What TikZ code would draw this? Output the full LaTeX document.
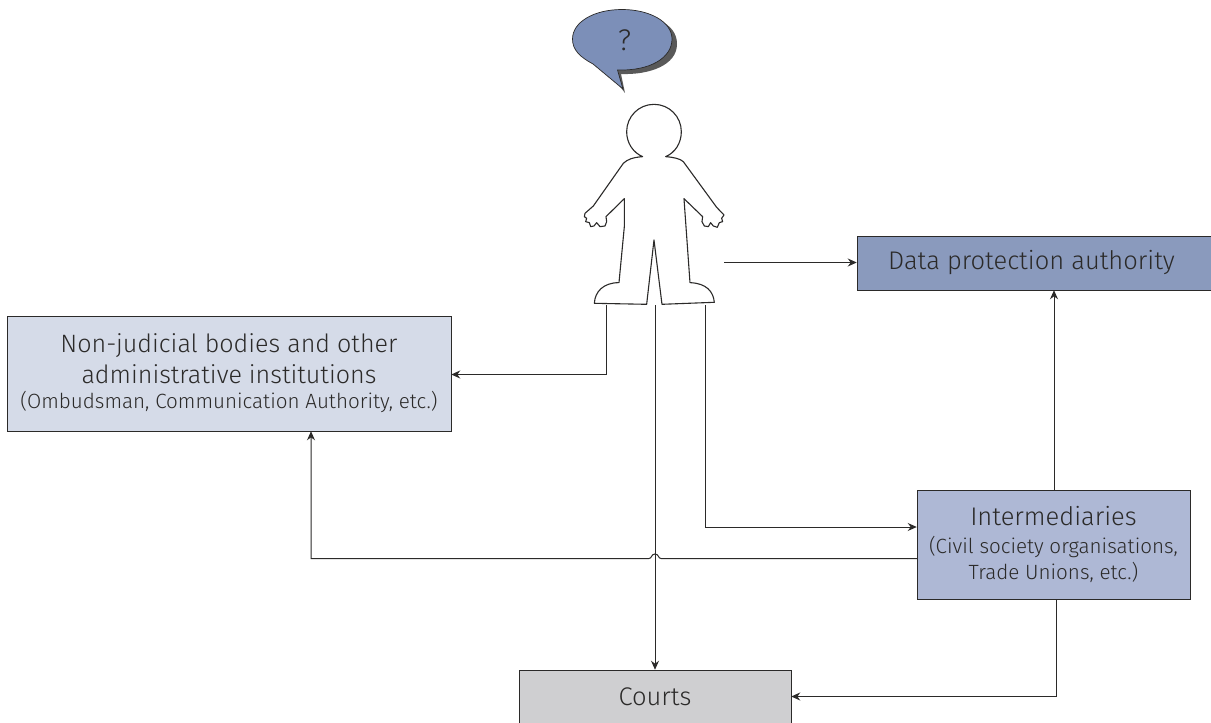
\documentclass[tikz,border=0pt]{standalone}
\usepackage{fontspec}
\setmainfont{Fira Sans Light}
\usetikzlibrary{arrows.meta,calc}
\definecolor{dpablue}{HTML}{8A9ABD}
\definecolor{paleblue}{HTML}{D5DBE8}
\definecolor{midblue}{HTML}{AEB8D5}
\definecolor{courtgrey}{HTML}{CFCFD1}
\definecolor{bubble}{HTML}{7C8FB8}
\definecolor{ink}{HTML}{2B2A29}
\tikzset{
  box/.style={draw=ink,line width=0.5bp,inner sep=0pt,align=center,text=ink},
  conn/.style={draw=ink,line width=1bp,-{Stealth[length=9bp,width=8bp]}},
  big/.style={font=\fontsize{25.6}{30}\selectfont},
}
\newcommand{\smalltxt}[1]{{\fontsize{20.7}{24}\selectfont #1}}
\begin{document}
\begin{tikzpicture}[x=1bp,y=-1bp]
\useasboundingbox (0,0) rectangle (1211,723);
% boxes
\node[box,big,fill=dpablue,minimum width=354bp,minimum height=54bp] (dpa) at (1034,263) {\raisebox{3.5bp}{\hspace{-5bp}Data protection authority}};
\node[box,font=\fontsize{25.2}{30}\selectfont,fill=paleblue,minimum width=444bp,minimum height=115bp] (nj) at (229,373.5) {Non-judicial bodies and other\\[1bp] administrative institutions\\[-5bp] \smalltxt{(Ombudsman, Communication Authority, etc.)}};
\node[box,big,fill=midblue,minimum width=273bp,minimum height=109bp] (im) at (1053.5,544.5) {Intermediaries\\[-2bp] \smalltxt{(Civil society organisations,}\\[-4bp] \smalltxt{Trade Unions, etc.)}};
\node[box,big,fill=courtgrey,minimum width=272bp,minimum height=54bp] (co) at (655,697) {Courts};
% bubble
\fill[black!65] (625,93) -- (621,74) .. controls (650,75) and (677,65) .. (677,44)
  .. controls (677,22) and (650,14) .. (625,14) -- (600,60) -- cycle;
\draw[ink,line width=0.7bp,fill=bubble] (617.5,70) .. controls (650,71) and (672,58) .. (672,39)
  .. controls (672,22) and (650,9.5) .. (622,9.5)
  .. controls (594,9.5) and (572.5,22) .. (572.5,39)
  .. controls (572.5,50) and (580,57) .. (593,64)
  -- (623,89) -- cycle;
\node[font=\fontsize{30}{32}\selectfont,text=ink,inner sep=0pt] (q) at (624.5,40) {?};
% person
\begin{scope}[shift={(570,100)},x=0.3333bp,y=-0.3333bp]
\draw[ink,line width=1.1bp,line join=round,fill=white]
 (218,170) .. controls (190,172) and (172,178) .. (160,190)
 -- (70,318) -- (45,340) -- (43,350) -- (50,355) -- (47,365) -- (58,368) -- (62,380) -- (72,378) -- (80,368) -- (90,380) -- (105,378) -- (110,365)
 -- (108,350) -- (163,296) -- (163,380) -- (147,548)
 .. controls (100,548) and (75,575) .. (73,610)
 -- (230,613) -- (252,420) -- (276,613) -- (433,607)
 .. controls (430,575) and (410,550) .. (360,548)
 -- (342,296) -- (398,350) -- (396,365) -- (403,378) -- (415,380) -- (422,368) -- (430,378) -- (442,382) -- (448,368) -- (458,365) -- (455,355) -- (462,345) -- (440,322)
 -- (340,185) .. controls (330,176) and (312,172) .. (287,170)
 .. controls (315,158) and (334,130) .. (334,95)
 .. controls (334,50) and (298,13) .. (252,13)
 .. controls (206,13) and (170,50) .. (170,95)
 .. controls (170,130) and (190,158) .. (218,170) -- cycle;
\end{scope}
% free ends on the person
\coordinate (pr) at (724,262.5);
\coordinate (pl) at (606,305);
\coordinate (pm) at (655,305);
\coordinate (pd) at (705.5,305);
% connectors
\draw[conn] (pr) -- (pr -| dpa.west);
\draw[conn] (pl) |- (nj.east |- 0,374.5);
\draw[conn] (pm) -- (co.north -| pm);
\draw[conn] (pd) |- (im.west |- 0,527);
\draw[conn] (im.north -| 1054,0) -- (dpa.south -| 1054,0);
\draw[conn] (im.west |- 0,558.5) -- (661,558.5) .. controls (658,558.5) and (659,554) .. (655,554) .. controls (651,554) and (652,558.5) .. (649,558.5) -- (311,558.5) -- (nj.south -| 311,0);
\draw[conn] (im.south -| 1056,0) |- (co.east |- 0,696.5);
\end{tikzpicture}
\end{document}
